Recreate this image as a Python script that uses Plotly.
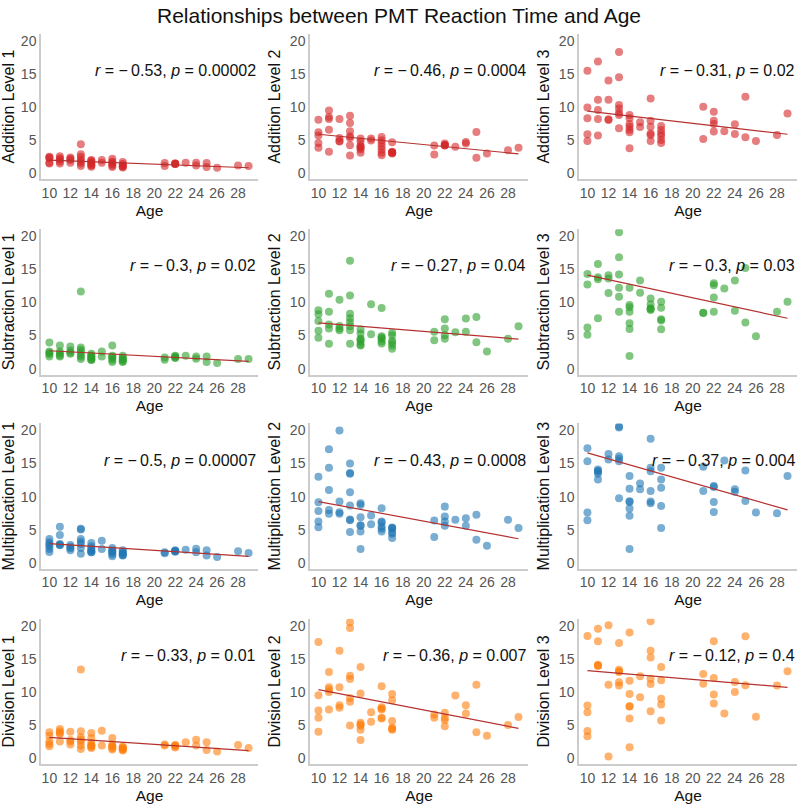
import numpy as np
import plotly.graph_objects as go

AGE_GROUPS = [10, 11, 12, 13, 14, 15, 16, 17, 21, 22, 23, 24, 25, 26, 28, 29]

# reaction times grouped by age (same order as AGE_GROUPS)
add1 = [[2.5, 2.3, 2.4, 1.6, 1.5], [2.6, 2.3, 2.1, 1.8, 1.5], [2.4, 2.2, 2.0, 1.6],
        [4.4, 2.9, 2.5, 2.1, 1.8, 1.5, 1.1], [2.0, 1.9, 1.7, 1.5, 1.3, 1.2, 1.0], [2.0, 1.6],
        [2.2, 1.8, 1.6, 1.4, 1.2, 0.95], [1.7, 1.4, 1.2, 1.0, 0.9, 1.1], [1.55, 1.1],
        [1.5, 1.5, 1.4, 1.4], [1.6], [1.6, 1.2], [1.55, 0.95], [0.85], [1.2], [1.1]]
add2 = [[8.1, 6.2, 5.7, 4.6, 3.85], [9.5, 8.5, 8.2, 6.6, 3.25], [8.2, 5.35, 4.9, 4.8],
        [8.7, 7.6, 6.35, 5.6, 5.35, 4.25, 2.7], [5.25, 4.85, 4.2, 4.0, 3.85, 3.6, 3.1], [5.25, 4.95],
        [5.5, 5.0, 4.6, 4.1, 3.6, 3.1, 2.75], [4.7, 3.25, 3.2, 3.1, 3.1, 3.0], [4.2, 2.85],
        [4.5, 4.3, 4.25, 4.2], [4.0], [4.75, 4.5], [6.25, 2.35], [3.0], [3.5], [3.85]]
add3 = [[15.5, 9.95, 8.3, 5.9, 4.9], [16.9, 11.1, 9.55, 8.2, 5.7], [14.0, 11.1, 8.15, 8.05],
        [18.3, 14.5, 10.3, 9.8, 9.15, 8.8, 6.8], [8.8, 8.3, 7.45, 7.05, 6.6, 6.2, 3.8], [7.7, 7.0],
        [11.3, 7.95, 7.05, 6.0, 5.8, 4.9], [7.15, 6.55, 6.05, 5.65, 5.05, 4.6], [10.05, 5.2],
        [9.3, 7.95, 7.45, 6.3], [6.35], [7.4, 5.95], [11.55, 5.45], [4.9], [5.8], [9.05]]
sub1 = [[3.95, 2.6, 2.4, 2.2, 1.85], [3.5, 2.6, 2.3, 2.0, 1.85], [3.35, 2.75, 2.4, 2.25],
        [11.65, 3.2, 2.85, 2.5, 2.1, 1.8, 1.45], [2.25, 2.0, 1.85, 1.7, 1.5, 1.35, 1.3], [2.6, 1.85],
        [3.5, 1.95, 1.8, 1.6, 1.3, 1.0], [1.95, 1.7, 1.45, 1.3, 1.1, 1.0], [1.7, 1.35],
        [1.95, 1.85, 1.7, 1.6], [1.95], [1.85, 1.5], [1.85, 1.0], [0.85], [1.45], [1.45]]
sub2 = [[8.8, 8.2, 7.2, 5.7, 4.65], [11.3, 8.6, 6.65, 6.05, 3.75], [10.4, 6.45, 6.05, 5.8],
        [16.3, 11.05, 8.3, 7.6, 7.0, 6.4, 5.8, 3.75], [5.9, 5.3, 4.5, 4.4, 4.1, 3.6, 3.5], [9.7, 5.2],
        [9.15, 4.9, 4.7, 4.5, 4.1, 3.8], [5.4, 5.05, 4.2, 3.9, 3.5, 3.0], [5.55, 4.3],
        [7.45, 6.05, 5.05, 4.5], [5.5], [7.55, 5.55], [7.8, 4.0], [2.6], [4.5], [6.4]]
sub3 = [[14.3, 12.7, 6.2, 5.1], [15.8, 13.8, 13.5, 7.6], [14.1, 13.6, 11.4],
        [20.6, 16.8, 14.2, 12.2, 10.85, 8.6], [12.2, 9.6, 9.25, 8.6, 6.85, 6.0, 1.9], [13.3, 11.45],
        [10.6, 9.7, 9.1, 9.0, 8.85], [10.1, 9.2, 7.45, 7.25, 5.95], [8.45, 8.4],
        [12.9, 12.6, 10.75, 8.6], [12.1], [13.3, 8.75], [15.2, 6.95], [4.9], [8.6], [10.1]]
mul1 = [[3.6, 3.1, 2.8, 2.5, 2.1, 1.65], [5.45, 4.2, 2.85, 2.75, 2.65], [2.7, 2.4, 2.2, 1.9],
        [5.15, 5.05, 3.6, 3.2, 2.85, 2.25, 1.4], [3.0, 2.5, 2.2, 1.9, 1.8, 1.6, 1.6], [3.35, 2.1],
        [2.25, 1.9, 1.7, 1.6, 1.3, 1.0], [1.9, 1.7, 1.5, 1.3, 1.15, 1.1], [1.6, 1.45],
        [1.9, 1.8, 1.75, 1.7], [2.0], [2.15, 1.6], [1.9, 1.1], [0.9], [1.75], [1.5]]
mul2 = [[13.0, 9.15, 7.85, 6.25, 5.4], [17.15, 14.35, 11.0, 8.0, 7.4], [20.0, 9.25, 7.65, 7.4],
        [15.0, 13.55, 13.45, 10.65, 8.65, 6.55, 6.45, 4.65], [9.0, 8.75, 6.9, 5.7, 5.6, 4.75, 2.1], [7.15, 5.85],
        [8.25, 6.25, 6.1, 5.5, 5.15, 4.75], [5.35, 5.25, 5.15, 4.6, 4.4, 3.75], [6.4, 3.9],
        [8.5, 7.0, 6.25, 5.6], [6.5], [6.75, 5.6], [7.25, 3.5], [2.6], [6.5], [5.25]]
mul3 = [[17.3, 15.35, 7.6, 6.45], [14.1, 13.9, 13.75, 13.45, 12.6], [16.45, 15.6],
        [20.6, 20.45, 16.1, 15.7, 15.35, 9.75], [13.1, 11.2, 9.3, 9.2, 8.2, 7.1, 2.1], [12.0, 11.1],
        [18.75, 14.35, 13.85, 10.85, 9.25, 9.0], [14.35, 12.6, 11.35, 8.6, 5.25], [14.5, 10.85],
        [11.6, 11.45, 9.2, 7.7], [15.45], [11.1, 10.75], [13.95, 9.35], [7.6], [7.5], [13.1]]
div1 = [[3.9, 3.4, 2.55, 2.15, 1.8], [4.4, 4.05, 3.8, 3.65, 2.5], [4.0, 2.75, 2.5, 2.05],
        [13.4, 4.05, 3.15, 2.8, 2.5, 1.9, 1.4], [3.8, 3.05, 2.3, 1.95, 1.9, 1.7, 1.55], [4.15, 1.9],
        [3.05, 2.05, 1.85, 1.75, 1.5, 1.3], [1.75, 1.6, 1.45, 1.4, 1.3, 1.15], [2.05, 1.9],
        [2.0, 1.9, 1.8, 1.6], [2.4], [2.8, 1.9], [2.4, 1.25], [1.0], [2.0], [1.55]]
div2 = [[17.55, 9.5, 7.2, 6.1, 4.0], [13.0, 10.7, 10.35, 10.0, 7.35], [16.2, 10.7, 8.0, 7.6],
        [20.5, 19.65, 12.45, 11.95, 9.1, 8.5, 4.95], [13.75, 9.75, 5.35, 5.1, 4.9, 4.3, 2.75], [6.95, 5.5],
        [10.85, 7.7, 7.5, 7.35, 6.1, 6.0], [9.7, 8.75, 5.6, 4.6, 4.45, 4.3], [6.6, 6.1],
        [6.85, 6.1, 5.75, 4.8], [9.45], [8.0, 6.75], [11.1, 3.9], [3.4], [5.0], [6.2]]
div3 = [[18.45, 7.95, 6.95, 4.1, 3.3], [19.55, 17.65, 14.1, 14.0, 13.9], [20.05, 11.1, 0.25],
        [17.4, 13.35, 13.1, 13.0, 11.45, 10.95], [18.95, 11.7, 9.7, 7.85, 7.8, 6.0, 1.65], [12.35, 9.2],
        [20.65, 16.2, 15.2, 12.0, 11.2, 7.1], [13.75, 11.75, 8.95, 8.1, 5.7], [12.7, 11.25],
        [17.65, 12.1, 9.6, 8.25], [6.75], [11.5, 10.0], [18.4, 11.0], [6.25], [10.95], [13.1]]

# fitted regression line values at the youngest and oldest age
FIT_AGES = [10, 29]
fit_add1 = [2.0, 0.85]
fit_add2 = [5.9, 2.95]
fit_add3 = [9.4, 5.9]
fit_sub1 = [2.7, 1.1]
fit_sub2 = [6.9, 4.45]
fit_sub3 = [14.1, 7.6]
fit_mul1 = [2.9, 1.0]
fit_mul2 = [9.25, 3.65]
fit_mul3 = [16.6, 8.0]
fit_div1 = [3.15, 1.15]
fit_div2 = [10.35, 4.5]
fit_div3 = [13.2, 10.7]

PANELS = [
    ("Addition Level 1", add1, fit_add1, "#d62728", "−0.53", "0.00002"),
    ("Addition Level 2", add2, fit_add2, "#d62728", "−0.46", "0.0004"),
    ("Addition Level 3", add3, fit_add3, "#d62728", "−0.31", "0.02"),
    ("Subtraction Level 1", sub1, fit_sub1, "#2ca02c", "−0.3", "0.02"),
    ("Subtraction Level 2", sub2, fit_sub2, "#2ca02c", "−0.27", "0.04"),
    ("Subtraction Level 3", sub3, fit_sub3, "#2ca02c", "−0.3", "0.03"),
    ("Multiplication Level 1", mul1, fit_mul1, "#1f77b4", "−0.5", "0.00007"),
    ("Multiplication Level 2", mul2, fit_mul2, "#1f77b4", "−0.43", "0.0008"),
    ("Multiplication Level 3", mul3, fit_mul3, "#1f77b4", "−0.37", "0.004"),
    ("Division Level 1", div1, fit_div1, "#ff7f0e", "−0.33", "0.01"),
    ("Division Level 2", div2, fit_div2, "#ff7f0e", "−0.36", "0.007"),
    ("Division Level 3", div3, fit_div3, "#ff7f0e", "−0.12", "0.4"),
]

TITLE = "Relationships between PMT Reaction Time and Age"
X_TICKS = [10, 12, 14, 16, 18, 20, 22, 24, 26, 28]
Y_TICKS = [0, 5, 10, 15, 20]

W, H = 798, 805
COLS_PX = [(41, 258), (310, 528), (579, 797)]
ROWS_PX = [(33, 179), (229, 375), (424, 570), (620, 766)]

FONT = "Liberation Sans, Arial, sans-serif"
fig = go.Figure()
layout = {}
annotations = []

for i, (label, groups, fit, color, rval, pval) in enumerate(PANELS):
    r, c = divmod(i, 3)
    ax = "" if i == 0 else str(i + 1)
    xs, ys = [], []
    for age, vals in zip(AGE_GROUPS, groups):
        xs += [age] * len(vals)
        ys += vals
    fig.add_trace(go.Scatter(x=xs, y=ys, mode="markers", xaxis="x" + ax, yaxis="y" + ax,
                             marker=dict(color=color, size=8, opacity=0.6, line=dict(width=0)),
                             showlegend=False, hoverinfo="skip", cliponaxis=True))
    fig.add_trace(go.Scatter(x=FIT_AGES, y=fit, mode="lines", xaxis="x" + ax, yaxis="y" + ax,
                             line=dict(color="#b5312f", width=1.2), showlegend=False, hoverinfo="skip"))
    x0, x1 = COLS_PX[c]
    y0, y1 = ROWS_PX[r]
    layout["xaxis" + ax] = dict(
        domain=[x0 / W, x1 / W], anchor="y" + ax, range=[9.2, 29.9],
        tickmode="array", tickvals=X_TICKS, ticks="", showgrid=False, zeroline=False,
        showline=True, linecolor="#cccccc", linewidth=1.5,
        tickfont=dict(size=14, color="#555555", family=FONT),
        title=dict(text="Age", font=dict(size=15.5, color="#111111", family=FONT), standoff=5),
    )
    layout["yaxis" + ax] = dict(
        domain=[1 - y1 / H, 1 - y0 / H], anchor="x" + ax, range=[-0.9, 21.05],
        tickmode="array", tickvals=Y_TICKS, ticks="", showgrid=False, zeroline=False,
        showline=True, linecolor="#cccccc", linewidth=1.5,
        tickfont=dict(size=14, color="#555555", family=FONT),
        title=dict(text=label, font=dict(size=16, color="#111111", family=FONT), standoff=5),
    )
    stat = f"<i>r</i> = {rval[0]}\u2009{rval[1:]}, <i>p</i> = {pval}"
    annotations.append(dict(text=stat, xref="x" + ax + " domain", yref="y" + ax, x=1.0, y=15.5,
                            xanchor="right", yanchor="middle", showarrow=False,
                            font=dict(size=16, color="#111111", family=FONT)))

fig.update_layout(
    **layout,
    width=W, height=H,
    margin=dict(l=0, r=0, t=0, b=0),
    paper_bgcolor="white", plot_bgcolor="white",
    title=dict(text=TITLE, x=0.5, xanchor="center", y=1 - 16 / H, yanchor="middle",
               font=dict(size=21, color="#111111", family=FONT)),
    annotations=annotations,
)

fig.write_html("out.html")
